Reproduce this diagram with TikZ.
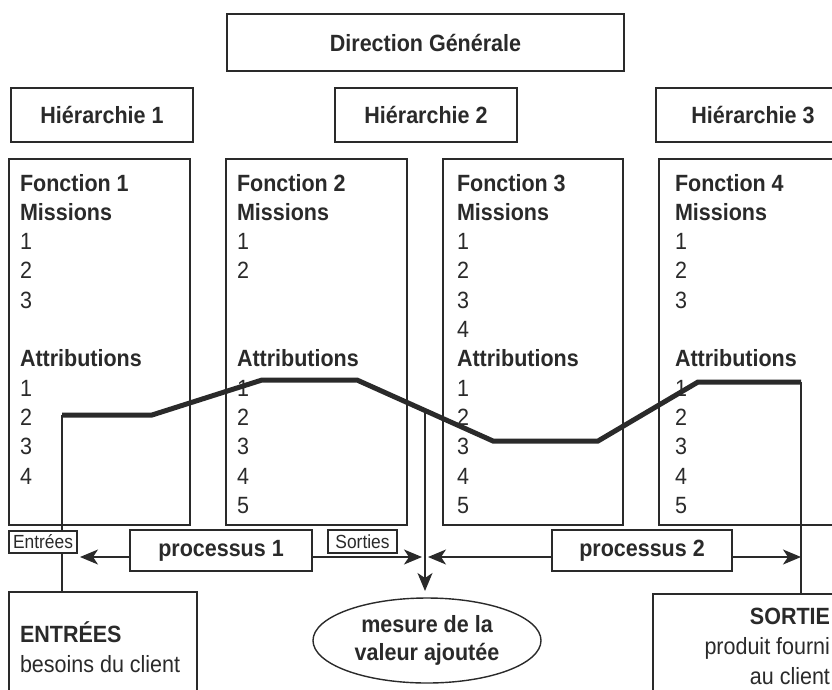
\documentclass[tikz,border=0pt]{standalone}
\usepackage{fontspec}
\setmainfont{Liberation Sans}[FakeStretch=0.915]
\usetikzlibrary{arrows.meta,calc,shapes.geometric}
\definecolor{ink}{HTML}{2A2A2A}
\begin{document}
\begin{tikzpicture}[x=1pt,y=-1pt,
  every node/.style={text=ink, inner sep=0pt, outer sep=0pt},
  fnt/.style={font=\fontsize{23.5}{28}\selectfont},
  bfnt/.style={font=\fontsize{23.5}{28}\selectfont\bfseries},
  sfnt/.style={font=\fontsize{19}{22}\selectfont},
  box/.style={draw=ink, line width=1.4pt, anchor=north west},
  thinline/.style={draw=ink, line width=1.3pt},
  thickline/.style={draw=ink, line width=5pt, line join=miter},
  arr/.style={thinline, -{Stealth[length=18pt,width=15pt,inset=5pt]}},
]
\useasboundingbox (0,0) rectangle (832,689);
\fill[white] (0,0) rectangle (832,689);
\clip (0,0) rectangle (832,689);

% top boxes
\node[box,bfnt,minimum width=397pt,minimum height=57pt] (dir) at (227,14) {Direction Générale};
\node[box,bfnt,minimum width=182pt,minimum height=54pt] (h1) at (11,88) {Hiérarchie 1};
\node[box,bfnt,minimum width=182pt,minimum height=54pt] (h2) at (335,88) {Hiérarchie 2};
\node[box,bfnt,minimum width=194pt,minimum height=54pt] (h3) at (656,88) {Hiérarchie 3};

% function boxes
\node[box,minimum width=181pt,minimum height=366pt] (f1) at (9,159) {};
\node[box,minimum width=181pt,minimum height=366pt] (f2) at (226,159) {};
\node[box,minimum width=180pt,minimum height=366pt] (f3) at (443,159) {};
\node[box,minimum width=200pt,minimum height=366pt] (f4) at (659,159) {};

\foreach \k/\t in {0/{\bfseries Fonction 1},1/{\bfseries Missions},2/1,3/2,4/3,6/{\bfseries Attributions},7/1,8/2,9/3,10/4}
  \node[fnt,anchor=base west] (fa\k) at (20,{191+29.3*\k}) {\t};
\foreach \k/\t in {0/{\bfseries Fonction 2},1/{\bfseries Missions},2/1,3/2,6/{\bfseries Attributions},7/1,8/2,9/3,10/4,11/5}
  \node[fnt,anchor=base west] (fb\k) at (237,{191+29.3*\k}) {\t};
\foreach \k/\t in {0/{\bfseries Fonction 3},1/{\bfseries Missions},2/1,3/2,4/3,5/4,6/{\bfseries Attributions},7/1,8/2,9/3,10/4,11/5}
  \node[fnt,anchor=base west] (fc\k) at (457,{191+29.3*\k}) {\t};
\foreach \k/\t in {0/{\bfseries Fonction 4},1/{\bfseries Missions},2/1,3/2,4/3,6/{\bfseries Attributions},7/1,8/2,9/3,10/4,11/5}
  \node[fnt,anchor=base west] (fd\k) at (675,{191+29.3*\k}) {\t};

% value line
\coordinate (t1) at (62,415);
\coordinate (t2) at (152,415);
\coordinate (t3) at (262,380);
\coordinate (t4) at (357,380);
\coordinate (t5) at (493,441);
\coordinate (t6) at (598,441);
\coordinate (t7) at (698,382);
\coordinate (t8) at (801,382);
\coordinate (tm) at ($(t4)!0.5!(t5)$);
\draw[thickline] (t1) -- (t2) -- (t3) -- (t4) -- (t5) -- (t6) -- (t7) -- (t8);

% bottom boxes
\node[box,minimum width=188pt,minimum height=120pt] (eb) at (9,592) {};
\node[fnt,anchor=base west] (et1) at (20,642) {\bfseries ENTRÉES};
\node[fnt,anchor=base west] (et2) at (20,672) {besoins du client};

\node[box,minimum width=200pt,minimum height=120pt] (sb) at (653,594) {};
\node[fnt,anchor=base east] (st1) at (830,624) {\bfseries SORTIE};
\node[fnt,anchor=base east] (st2) at (830,654) {produit fourni};
\node[fnt,anchor=base east] (st3) at (830,684) {au client};

\draw[thinline] (t1) -- (t1 |- eb.north);
\draw[thinline] (t8) -- (t8 |- sb.north);

\node[draw=ink, line width=1.4pt, ellipse, minimum width=228pt, minimum height=85pt, align=center, bfnt] (ell) at (427,640.5) {mesure de la\\valeur ajoutée};

\coordinate (va) at (425,591);
\draw[arr] (tm) -- (va);

% process boxes
\node[box,fill=white,sfnt,minimum width=68pt,minimum height=22pt] (ent) at (9,531) {Entrées};
\node[box,bfnt,minimum width=182pt,minimum height=41pt] (p1) at (130,530) {processus 1};
\node[box,sfnt,minimum width=69pt,minimum height=23pt] (sor) at (328,530) {Sorties};
\node[box,bfnt,minimum width=180pt,minimum height=41pt] (p2) at (552,530) {processus 2};

\coordinate (a1) at (80,557);
\coordinate (a2) at (422,557);
\coordinate (a3) at (428,557);
\draw[arr] (p1.west |- a1) -- (a1);
\draw[arr] (p1.east |- a2) -- (a2);
\draw[arr] (p2.west |- a3) -- (a3);
\draw[arr] (p2.east |- a3) -- (t8 |- a3);
\end{tikzpicture}
\end{document}
